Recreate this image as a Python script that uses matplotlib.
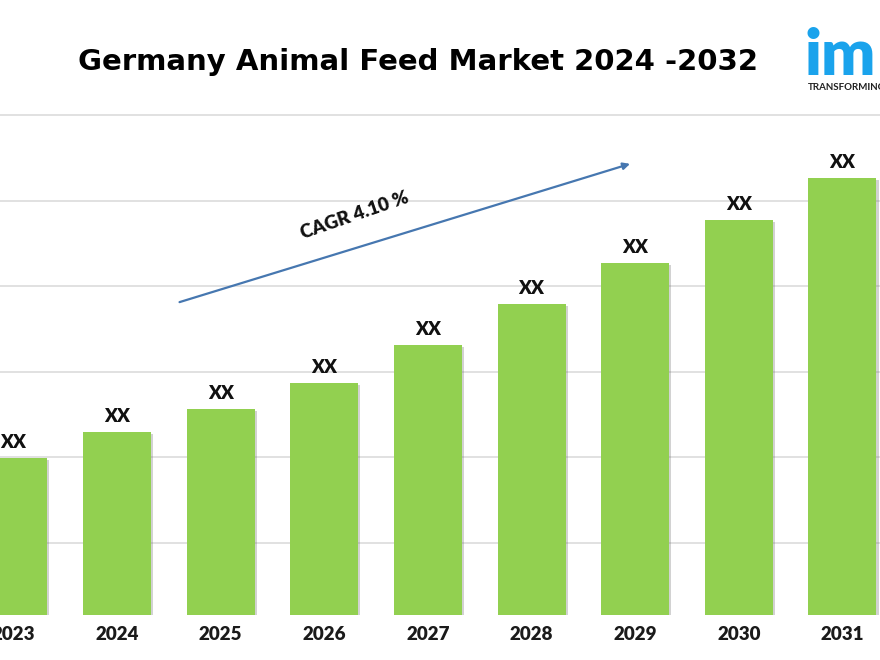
import numpy as np
import matplotlib.pyplot as plt
import matplotlib.patheffects as pe

# chart data (arbitrary units)
years = ['2023', '2024', '2025', '2026', '2027', '2028', '2029', '2030', '2031']
market = [18.3, 21.4, 24.1, 27.1, 31.5, 36.3, 41.1, 46.1, 51.1]
bar_labels = ['XX'] * len(years)
grid_levels = [8.4, 18.4, 28.4, 38.4, 48.4, 58.4]
title = 'Germany Animal Feed Market 2024 -2032'
cagr_text = 'CAGR 4.10 %'

plt.rcParams['font.family'] = ['Lato', 'DejaVu Sans']

fig = plt.figure(figsize=(8.8, 6.6), dpi=100)
ax = fig.add_axes([0, 45 / 660, 1, 515 / 660])

x = np.arange(len(years))
bars = ax.bar(x, market, width=0.656, color='#92d050', zorder=3)
for b in bars:
    b.set_path_effects([pe.SimplePatchShadow(offset=(1.5, -1.5), shadow_rgbFace='#6a6a6a', alpha=0.3),
                        pe.Normal()])

# value labels above the bars
for xi, v, lab in zip(x, market, bar_labels):
    ax.annotate(lab, (xi, v), xytext=(0, 5), textcoords='offset points',
                ha='center', va='bottom', fontsize=13.5, fontweight='heavy', color='#111111')

ax.set_xlim(-0.129, 8.362)
ax.set_ylim(0, 60.16)
ax.set_yticks(grid_levels)
ax.yaxis.grid(True, color='#d9d9d9', linewidth=1.1, zorder=0)
ax.set_xticks(x)
ax.set_xticklabels(years, fontsize=13.5, fontweight='heavy', color='#1a1a1a')
ax.tick_params(axis='x', length=0, pad=8)
ax.tick_params(axis='y', length=0, labelleft=False)
for s in ax.spines.values():
    s.set_visible(False)

# growth arrow + CAGR text
ax.annotate('', xy=(0.719, 0.753 * 660 / 515 - 45 / 515), xytext=(0.201, 0.541 * 660 / 515 - 45 / 515),
            xycoords='axes fraction', textcoords='axes fraction',
            arrowprops=dict(arrowstyle='-|>', color='#4677b0', lw=1.6, mutation_scale=10))
fig.text(355 / 880, 1 - 215 / 660, cagr_text, rotation=19, ha='center', va='center',
         fontsize=13.5, fontweight='heavy', color='#111111')

# title and logo
fig.text(418 / 880, 1 - 62 / 660, title, ha='center', va='center',
         fontsize=21, fontweight='bold', color='#000000', family='DejaVu Sans')
fig.text(804 / 880, 1 - 75 / 660, 'im', ha='left', va='baseline',
         fontsize=46, fontweight='heavy', color='#1aa3ec')
fig.text(808 / 880, 1 - 87 / 660, 'TRANSFORMING', ha='left', va='center',
         fontsize=7, fontweight='bold', color='#222222')

fig.savefig('out.png', dpi=100)
